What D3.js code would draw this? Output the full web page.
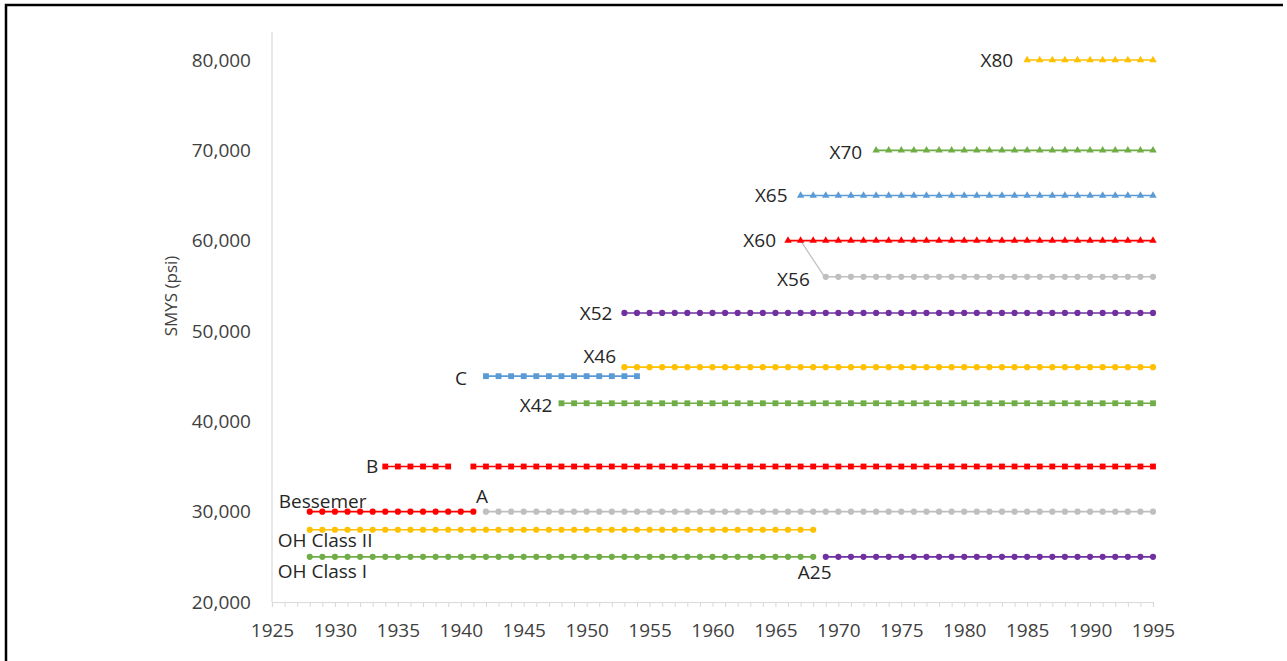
<!DOCTYPE html>
<html><head><meta charset="utf-8">
<script src="https://cdn.jsdelivr.net/npm/d3@7"></script>
<style>body{margin:0;background:#fff}svg{display:block;font-family:"Open Sans",Calibri,"Liberation Sans",sans-serif}</style>
</head><body><svg id="c" width="1287" height="661"></svg>
<script>
const xTicks = [1925,1930,1935,1940,1945,1950,1955,1960,1965,1970,1975,1980,1985,1990,1995];
const yTicks = [20000,30000,40000,50000,60000,70000,80000];
const seriesNames = ["OH Class I","A25","OH Class II","Bessemer","A","B","B2","C","X42","X46","X52","X56","X60","X65","X70","X80"];
const seriesValues = [25000,25000,28000,30000,30000,35000,35000,45000,42000,46000,52000,56000,60000,65000,70000,80000];
const seriesStart = [1928,1969,1928,1928,1942,1934,1941,1942,1948,1953,1953,1969,1966,1967,1973,1985];
const seriesEnd   = [1968,1995,1968,1941,1995,1939,1995,1954,1995,1995,1995,1995,1995,1995,1995,1995];
const seriesColor = ["#70ad47","#7030a0","#ffc000","#ff0000","#bfbfbf","#ff0000","#ff0000","#5b9bd5","#70ad47","#ffc000","#7030a0","#bfbfbf","#ff0000","#5b9bd5","#70ad47","#ffc000"];
const seriesShape = ["circle","circle","circle","circle","circle","square","square","square","square","circle","circle","circle","triangle","triangle","triangle","triangle"];
const labels = [
  {t:"OH Class I", x:1928, v:25000, dx:-32, dy:15, a:"start"},
  {t:"A25", x:1969, v:25000, dx:-28, dy:16, a:"start"},
  {t:"OH Class II", x:1928, v:28000, dx:-32, dy:11, a:"start"},
  {t:"Bessemer", x:1928, v:30000, dx:-31, dy:-10, a:"start"},
  {t:"A", x:1942, v:30000, dx:-10, dy:-15, a:"start"},
  {t:"B", x:1934, v:35000, dx:-7, dy:0, a:"end"},
  {t:"C", x:1942, v:45000, dx:-19, dy:2, a:"end"},
  {t:"X42", x:1948, v:42000, dx:-9, dy:2, a:"end"},
  {t:"X46", x:1953, v:46000, dx:-41, dy:-11, a:"start"},
  {t:"X52", x:1953, v:52000, dx:-12, dy:0, a:"end"},
  {t:"X56", x:1969, v:56000, dx:-16, dy:3, a:"end"},
  {t:"X60", x:1966, v:60000, dx:-12, dy:0, a:"end"},
  {t:"X65", x:1967, v:65000, dx:-13, dy:0, a:"end"},
  {t:"X70", x:1973, v:70000, dx:-14, dy:2, a:"end"},
  {t:"X80", x:1985, v:80000, dx:-14, dy:0, a:"end"}
];

const svg = d3.select("#c");
svg.append("path").attr("d","M6,661 V5 H1283").attr("fill","none").attr("stroke","#000").attr("stroke-width",2.5);

const x = d3.scaleLinear().domain([1925,1995]).range([272,1153]);
const y = d3.scaleLinear().domain([20000,80000]).range([602,60]);

svg.append("line").attr("x1",272).attr("x2",272).attr("y1",32).attr("y2",602).attr("stroke","#d9d9d9").attr("stroke-width",1.2);
const xMinor = d3.range(1925,1996);
const xa = svg.append("g").attr("transform","translate(0,602)")
  .call(d3.axisBottom(x).tickValues(xMinor).tickSize(5).tickFormat(""));
xa.select(".domain").attr("stroke","#d9d9d9").attr("stroke-width",1.2);
xa.selectAll(".tick line").attr("stroke","#d9d9d9");
svg.append("g").attr("transform","translate(0,602)")
  .call(d3.axisBottom(x).tickValues(xTicks).tickSize(0).tickPadding(22).tickFormat(d3.format("d")))
  .call(g=>g.select(".domain").remove())
  .selectAll("text").attr("font-size",19).attr("fill","#404040").attr("font-family","'Open Sans',sans-serif");
svg.append("g").attr("transform","translate(272,0)")
  .call(d3.axisLeft(y).tickValues(yTicks).tickSize(0).tickPadding(21).tickFormat(d3.format(",")))
  .call(g=>g.select(".domain").remove())
  .selectAll("text").attr("font-size",19).attr("fill","#404040").attr("font-family","'Open Sans',sans-serif");
svg.append("text").attr("transform","translate(177,296) rotate(-90)").attr("text-anchor","middle")
  .attr("font-size",17).attr("fill","#404040").text("SMYS (psi)");

svg.append("line").attr("x1",x(1967)).attr("y1",y(60000)).attr("x2",x(1968.9)).attr("y2",y(56000))
  .attr("stroke","#bfbfbf").attr("stroke-width",1.2);

seriesNames.forEach((n,i)=>{
  const pts = d3.range(seriesStart[i], seriesEnd[i]+1).map(yr=>[yr, seriesValues[i]]);
  const g = svg.append("g");
  g.append("path").attr("d", d3.line().x(d=>x(d[0])).y(d=>y(d[1]))(pts))
    .attr("fill","none").attr("stroke",seriesColor[i]).attr("stroke-width",1.6);
  const sym = seriesShape[i]==="circle"?d3.symbolCircle:seriesShape[i]==="square"?d3.symbolSquare:d3.symbolTriangle;
  const size = seriesShape[i]==="circle"?30:seriesShape[i]==="square"?34:24;
  g.selectAll("path.m").data(pts).join("path").attr("class","m")
    .attr("transform",d=>`translate(${x(d[0])},${y(d[1])})`)
    .attr("d", d3.symbol(sym,size)).attr("fill",seriesColor[i]);
});

labels.forEach(l=>{
  svg.append("text").attr("x",x(l.x)+l.dx).attr("y",y(l.v)+l.dy).attr("dy","0.35em")
    .attr("text-anchor",l.a).attr("font-size",19).attr("fill","#262626").text(l.t);
});
</script></body></html>
